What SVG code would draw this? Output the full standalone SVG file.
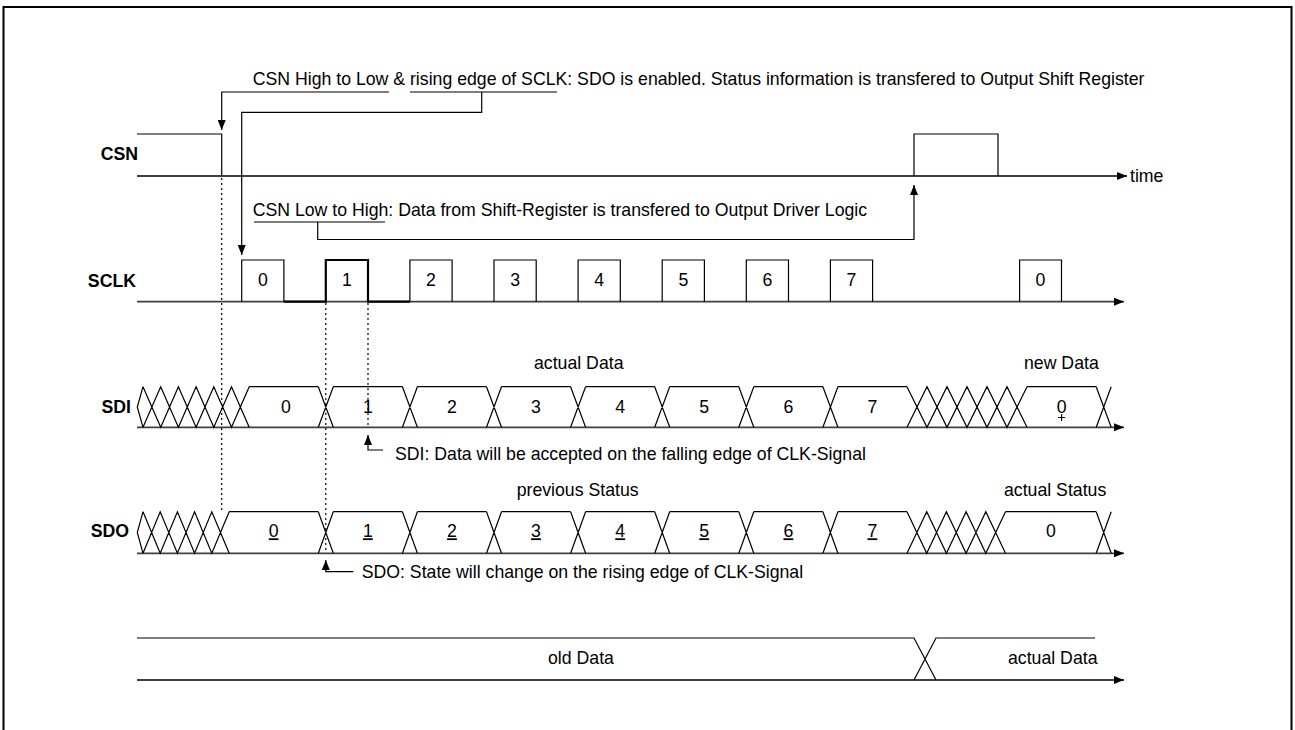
<svg xmlns="http://www.w3.org/2000/svg" width="1295" height="730" viewBox="0 0 1295 730">
<style>
text{font-family:"Liberation Sans",Arial,sans-serif;font-size:17.7px;fill:#000}
.lbl{font-weight:bold;text-anchor:end}
.c{text-anchor:middle}
.u{text-decoration:underline}
.sig{fill:none;stroke:#000;stroke-width:1.2}
.axis{fill:none;stroke:#404040;stroke-width:1.8}
.dot{fill:none;stroke:#000;stroke-width:1.2;stroke-dasharray:2 3}
.con{fill:none;stroke:#000;stroke-width:1.2}
</style>
<defs>
<marker id="arr" viewBox="0 0 10 8" refX="10" refY="4" markerWidth="10" markerHeight="8" markerUnits="userSpaceOnUse" orient="auto"><path d="M0,0 L10,4 L0,8 z" fill="#000"/></marker>
</defs>
<rect x="3.5" y="7" width="1288" height="760" fill="#fff" stroke="#000" stroke-width="2"/>

<g id="annotations-text">
<text x="252.7" y="85">CSN High to Low &amp; rising edge of SCLK: SDO is enabled. Status information is transfered to Output Shift Register</text>
<text x="252.7" y="216">CSN Low to High: Data from Shift-Register is transfered to Output Driver Logic</text>
<text x="395" y="460">SDI: Data will be accepted on the falling edge of CLK-Signal</text>
<text x="361.7" y="578">SDO: State will change on the rising edge of CLK-Signal</text>
</g>

<g id="csn">
<text class="lbl" x="138" y="160">CSN</text>
<line class="axis" x1="137" y1="176" x2="1127" y2="176" marker-end="url(#arr)"/>
<text x="1130" y="182">time</text>
<polyline class="sig" points="137,134 221.7,134 221.7,176"/>
<polyline class="sig" points="914,176 914,134 998,134 998,176"/>
</g>

<g id="sclk">
<text class="lbl" x="136" y="287">SCLK</text>
<line class="axis" x1="137" y1="301.7" x2="1124" y2="301.7" marker-end="url(#arr)"/>
<polyline class="sig" points="241.7,301.7 241.7,260 283.9,260 283.9,301.7"/>
<polyline class="sig" style="stroke-width:2.2" points="283.9,301.7 325.8,301.7 325.8,260 368,260 368,301.7 409.9,301.7"/>
<polyline class="sig" points="409.9,301.7 409.9,260 452.1,260 452.1,301.7"/>
<polyline class="sig" points="494,301.7 494,260 536.2,260 536.2,301.7"/>
<polyline class="sig" points="578.1,301.7 578.1,260 620.3,260 620.3,301.7"/>
<polyline class="sig" points="662.2,301.7 662.2,260 704.4,260 704.4,301.7"/>
<polyline class="sig" points="746.3,301.7 746.3,260 788.5,260 788.5,301.7"/>
<polyline class="sig" points="830.4,301.7 830.4,260 872.6,260 872.6,301.7"/>
<polyline class="sig" points="1019.6,301.7 1019.6,260 1061.5,260 1061.5,301.7"/>
<text class="c" x="262.8" y="286">0</text>
<text class="c" x="346.9" y="286">1</text>
<text class="c" x="431" y="286">2</text>
<text class="c" x="515.1" y="286">3</text>
<text class="c" x="599.2" y="286">4</text>
<text class="c" x="683.3" y="286">5</text>
<text class="c" x="767.4" y="286">6</text>
<text class="c" x="851.5" y="286">7</text>
<text class="c" x="1040.5" y="286">0</text>
</g>

<g id="sdi">
<text class="lbl" x="131" y="413.3">SDI</text>
<line class="axis" x1="137" y1="427.3" x2="1124" y2="427.3" marker-end="url(#arr)"/>
<path class="sig" d="M143,386.7 L137.3,407 L143,427.3
M143,386.7 L160.7,427.3 L178.4,386.7 L196.1,427.3 L213.8,386.7 L231.5,427.3 L249.2,386.7
M143,427.3 L160.7,386.7 L178.4,427.3 L196.1,386.7 L213.8,427.3 L231.5,386.7 L249.2,427.3
M249.2,386.7 H318.3 M333.3,386.7 H402.4 M417.4,386.7 H486.5 M501.5,386.7 H570.6 M585.6,386.7 H654.7 M669.7,386.7 H738.8 M753.8,386.7 H822.9 M837.9,386.7 H907
M318.3,386.7 L333.3,427.3 M318.3,427.3 L333.3,386.7
M402.4,386.7 L417.4,427.3 M402.4,427.3 L417.4,386.7
M486.5,386.7 L501.5,427.3 M486.5,427.3 L501.5,386.7
M570.6,386.7 L585.6,427.3 M570.6,427.3 L585.6,386.7
M654.7,386.7 L669.7,427.3 M654.7,427.3 L669.7,386.7
M738.8,386.7 L753.8,427.3 M738.8,427.3 L753.8,386.7
M822.9,386.7 L837.9,427.3 M822.9,427.3 L837.9,386.7
M907,386.7 L927,427.3 L947,386.7 L967,427.3 L987,386.7 L1007,427.3 L1027,386.7
M907,427.3 L927,386.7 L947,427.3 L967,386.7 L987,427.3 L1007,386.7 L1027,427.3
M1027,386.7 H1096.2 M1096.2,386.7 L1111.2,427.3 M1096.2,427.3 L1111.2,386.7"/>
<text class="c" x="285.8" y="413.3">0</text>
<text class="c" x="367.9" y="413.3">1</text>
<text class="c" x="452" y="413.3">2</text>
<text class="c" x="536" y="413.3">3</text>
<text class="c" x="620.2" y="413.3">4</text>
<text class="c" x="704.2" y="413.3">5</text>
<text class="c" x="788.4" y="413.3">6</text>
<text class="c" x="872.4" y="413.3">7</text>
<text class="c" x="1061.6" y="413.3">0</text>
<path class="sig" d="M1061.6,414 V421 M1058,417.5 H1065.2"/>
<text x="534" y="369">actual Data</text>
<text x="1024" y="369">new Data</text>
</g>

<g id="sdo">
<text class="lbl" x="129" y="537.3">SDO</text>
<line class="axis" x1="137" y1="553.3" x2="1124" y2="553.3" marker-end="url(#arr)"/>
<path class="sig" d="M143,511.7 L137.3,532.5 L143,553.3
M143,511.7 L160.2,553.3 L177.4,511.7 L194.6,553.3 L211.8,511.7 L229.2,553.3
M143,553.3 L160.2,511.7 L177.4,553.3 L194.6,511.7 L211.8,553.3 L229.2,511.7
M229.2,511.7 H318.3 M333.3,511.7 H402.4 M417.4,511.7 H486.5 M501.5,511.7 H570.6 M585.6,511.7 H654.7 M669.7,511.7 H738.8 M753.8,511.7 H822.9 M837.9,511.7 H907
M318.3,511.7 L333.3,553.3 M318.3,553.3 L333.3,511.7
M402.4,511.7 L417.4,553.3 M402.4,553.3 L417.4,511.7
M486.5,511.7 L501.5,553.3 M486.5,553.3 L501.5,511.7
M570.6,511.7 L585.6,553.3 M570.6,553.3 L585.6,511.7
M654.7,511.7 L669.7,553.3 M654.7,553.3 L669.7,511.7
M738.8,511.7 L753.8,553.3 M738.8,553.3 L753.8,511.7
M822.9,511.7 L837.9,553.3 M822.9,553.3 L837.9,511.7
M907,511.7 L926.7,553.3 L946.4,511.7 L966.1,553.3 L985.8,511.7 L1005.5,553.3
M907,553.3 L926.7,511.7 L946.4,553.3 L966.1,511.7 L985.8,553.3 L1005.5,511.7
M1005.5,511.7 H1096.2 M1096.2,511.7 L1111.2,553.3 M1096.2,553.3 L1111.2,511.7"/>
<text class="c u" x="273.7" y="537.3">0</text>
<text class="c u" x="367.9" y="537.3">1</text>
<text class="c u" x="452" y="537.3">2</text>
<text class="c u" x="536" y="537.3">3</text>
<text class="c u" x="620.2" y="537.3">4</text>
<text class="c u" x="704.2" y="537.3">5</text>
<text class="c u" x="788.4" y="537.3">6</text>
<text class="c u" x="872.4" y="537.3">7</text>
<text class="c" x="1050.9" y="537.3">0</text>
<text x="516.7" y="496">previous Status</text>
<text x="1004" y="496">actual Status</text>
</g>

<g id="output">
<line class="axis" x1="137" y1="680" x2="1124" y2="680" marker-end="url(#arr)"/>
<path class="sig" d="M137,638 H914 L936,680 M914,680 L936,638 H1095"/>
<text x="548" y="664">old Data</text>
<text x="1008" y="664">actual Data</text>
</g>

<g id="dotted">
<line class="dot" x1="221.7" y1="178" x2="221.7" y2="511"/>
<line class="dot" x1="325.8" y1="303" x2="325.8" y2="553"/>
<line class="dot" x1="368" y1="303" x2="368" y2="427"/>
</g>

<g id="connectors">
<path class="con" d="M389,92 H221.7 V130" marker-end="url(#arr)"/>
<path class="con" d="M410,92 H557"/>
<path class="con" d="M481.7,92 V112.3 H241.7 V255" marker-end="url(#arr)"/>
<path class="con" d="M254,222 H385"/>
<path class="con" d="M317.7,222 V239.5 H914 V185" marker-end="url(#arr)"/>
<path class="con" d="M383,450 H368 V435" marker-end="url(#arr)"/>
<path class="con" d="M353.3,571.7 H325.8 V560" marker-end="url(#arr)"/>
</g>
</svg>
